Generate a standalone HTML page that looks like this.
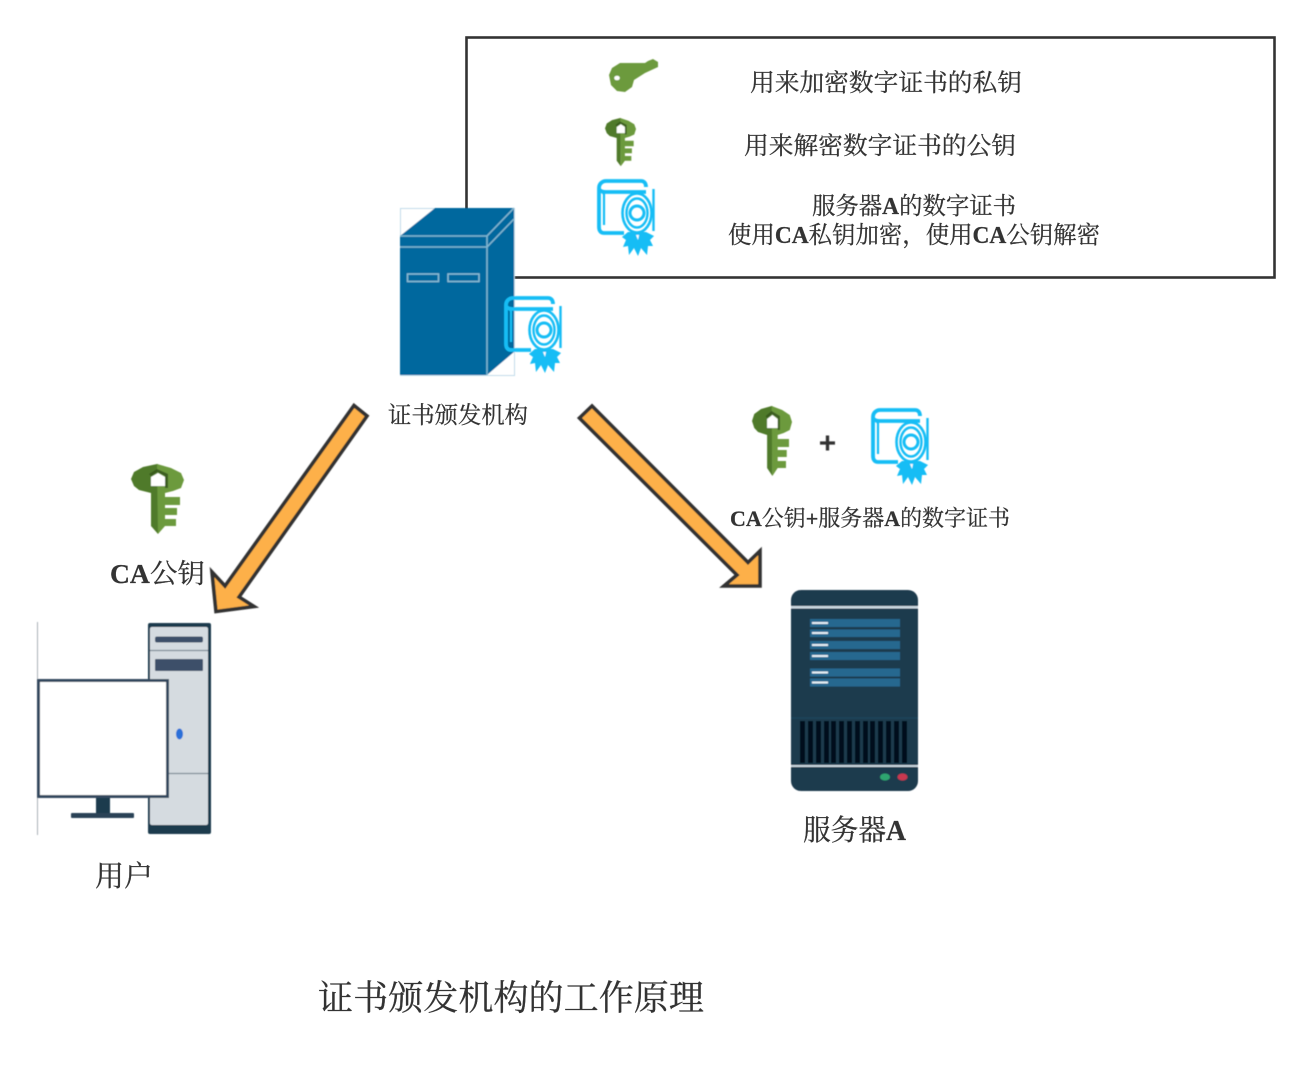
<!DOCTYPE html>
<html lang="zh">
<head>
<meta charset="utf-8">
<style>
html,body{margin:0;padding:0;background:#fff;width:1311px;height:1080px;overflow:hidden}
svg{display:block}
text{font-family:"Liberation Serif","Noto Serif CJK SC",serif;fill:#333;stroke:#333;stroke-width:.25px;}
.b{font-weight:bold}
</style>
</head>
<body>
<svg width="1311" height="1080" viewBox="0 0 1311 1080" xmlns="http://www.w3.org/2000/svg">
<defs>
<filter id="s" x="-5%" y="-5%" width="110%" height="110%"><feGaussianBlur stdDeviation="0.45"/></filter>
<g id="key">
  <path fill="#4f7a2b" d="M26 0L12 3L3 8L0 15L3 22L8 26L20 29L20 62L27 70L27 0Z"/>
  <path fill="#6c9a3d" d="M26 0L40 4L50 9L53 16L50 24L42 27L34 29L34 33L49 33L49 41L34 41L34 44L46 44L46 51L34 51L34 55L45 55L45 62L34 62L27 70Z"/>
  <path fill="#34551d" d="M18 10L26 5L37 10L37 24L34 24L34 12L26 8L20 12Z" opacity=".85"/>
  <path fill="#fff" d="M20 13L27 9L34 13L34 22L20 22Z"/>
</g>
<g id="cert" fill="none" stroke="#12bdf5">
  <path stroke-width="3.8" d="M3 9C3 5 6 2 10 2H45C48 2 50 4 50 8M3 9V48C3 52 5 54 8 54H28M3 10C4 12 6 13 10 13H50"/>
  <path stroke-width="2.2" d="M3 10L8 15V46"/>
  <ellipse cx="41" cy="34" rx="14.500" ry="19.500" stroke-width="2.6"/>
  <ellipse cx="41" cy="34" rx="10.500" ry="14.500" stroke-width="2.4"/>
  <circle cx="41" cy="34" r="7" stroke-width="3"/>
  <path stroke-width="2.4" d="M57.500 10V52"/>
  <path fill="#12bdf5" stroke="none" d="M32 53L50 53L58 57L54 61L57 67L52 67L51 76L45 69L42 77L38 69L33 76L32 67L27 68L30 61L26 58Z"/>
  <path fill="#fff" stroke="none" d="M40 56L43 56L42 61Z"/>
</g>
</defs>

<!-- legend box -->
<rect x="466.500" y="37.500" width="808" height="240" fill="#fff" stroke="#333" stroke-width="2.600"/>

<!-- legend icons -->
<g filter="url(#s)">
  <g>
    <path fill="#6c9a3d" d="M612 68L620 63L633 63L645 63L648 61L653 59L658 62L658 67L645 73L634 80L632 87L625 92L617 91L611 85L609 75Z"/>
    <ellipse cx="617" cy="78" rx="2.800" ry="2.300" fill="#fff"/>
  </g>
  <use href="#key" transform="translate(605 118) scale(.585 .69)"/>
  <use href="#cert" transform="translate(596 179)"/>

  <!-- CA server -->
  <rect x="400.500" y="208.500" width="114" height="167" fill="#fff" stroke="#bfdcea" stroke-width="1"/>
  <path fill="#00689e" d="M400 236L435 208H514V352L487 375H400Z"/>
  <path fill="none" stroke="#7fb6d0" stroke-width="1.600" d="M400 236H487L514 208M400 247H487M487 236V375M487 247L514 219"/>
  <rect x="407.500" y="274" width="31" height="7.500" fill="none" stroke="#8cbdd4" stroke-width="1.500"/>
  <rect x="448" y="274" width="31" height="7.500" fill="none" stroke="#8cbdd4" stroke-width="1.500"/>
  <use href="#cert" transform="translate(503 296)"/>

  <!-- arrows -->
  <path fill="#fdb04a" stroke="#333" stroke-width="3.600" stroke-linejoin="miter" d="M354 405.500L367 416L239 597L254 606.500L216 611.500L212 572L225 586Z"/>
  <path fill="#fdb04a" stroke="#333" stroke-width="3.600" stroke-linejoin="miter" d="M592 406L579.500 418L737 575L724 586L760 586L760 551L748 562.500Z"/>

  <!-- mid icons -->
  <use href="#key" transform="translate(752 406) scale(.755 1)"/>
  <path d="M820 443H835M827.500 435.500V450.500" stroke="#333" stroke-width="3.300" fill="none"/>
  <use href="#cert" transform="translate(870 408)"/>

  <!-- CA key -->
  <use href="#key" transform="translate(131 464)"/>

  <!-- PC -->
  <path d="M37.500 622V835" stroke="#aab2b8" stroke-width="1"/>
  <rect x="148" y="623" width="63" height="211" rx="2" fill="#1f3a4d"/>
  <rect x="150" y="627" width="58" height="198" rx="2" fill="#d5dbe0"/>
  <rect x="155" y="636.500" width="48" height="6" rx="2" fill="#3d5069"/>
  <rect x="155" y="659" width="48" height="12" rx="1" fill="#3d5069"/>
  <path d="M150 650.500H208M150 773.500H208" stroke="#7f8c96" stroke-width="1.200"/>
  <ellipse cx="179.500" cy="734" rx="3.500" ry="5.500" fill="#2a6fd8"/>
  <rect x="38.500" y="680.500" width="129" height="116" fill="#fff" stroke="#34495e" stroke-width="3"/>
  <rect x="96" y="798" width="14" height="16" fill="#1f3a4d"/>
  <rect x="71" y="813" width="63" height="5" rx="1" fill="#2c4356"/>

  <!-- Server A -->
  <rect x="791" y="590" width="127" height="201" rx="10" fill="#1f3a4d"/>
  <rect x="791" y="606" width="127" height="2.500" fill="#c9d6df"/>
  <g fill="#25688f">
    <rect x="810" y="619" width="90" height="8"/>
    <rect x="810" y="629.500" width="90" height="7.500"/>
    <rect x="810" y="641" width="90" height="8"/>
    <rect x="810" y="652" width="90" height="8"/>
    <rect x="810" y="668.500" width="90" height="8"/>
    <rect x="810" y="678.500" width="90" height="8"/>
  </g>
  <g fill="#e4eef4">
    <rect x="812" y="622" width="16" height="2"/>
    <rect x="812" y="632" width="16" height="2"/>
    <rect x="812" y="644" width="16" height="2"/>
    <rect x="812" y="655" width="16" height="2"/>
    <rect x="812" y="671.500" width="16" height="2"/>
    <rect x="812" y="681.500" width="16" height="2"/>
  </g>
  <rect x="791" y="717" width="127" height="2" fill="#1b4258"/>
  <g fill="#05101e">
    <rect x="800" y="721" width="5" height="42"/><rect x="808" y="721" width="5" height="42"/>
    <rect x="816" y="721" width="5" height="42"/><rect x="824" y="721" width="5" height="42"/>
    <rect x="831" y="721" width="5" height="42"/><rect x="839" y="721" width="5" height="42"/>
    <rect x="847" y="721" width="5" height="42"/><rect x="855" y="721" width="5" height="42"/>
    <rect x="863" y="721" width="5" height="42"/><rect x="870" y="721" width="5" height="42"/>
    <rect x="878" y="721" width="5" height="42"/><rect x="886" y="721" width="5" height="42"/>
    <rect x="894" y="721" width="5" height="42"/><rect x="902" y="721" width="5" height="42"/>
  </g>
  <rect x="791" y="765" width="127" height="2" fill="#c9d6df"/>
  <ellipse cx="885" cy="777" rx="5" ry="3.500" fill="#2fa56f"/>
  <ellipse cx="902.500" cy="777" rx="5" ry="3.500" fill="#c8384f"/>
</g>

<!-- labels -->
<text x="750" y="91" font-size="24.700" textLength="272" lengthAdjust="spacingAndGlyphs">用来加密数字证书的私钥</text>
<text x="744" y="154" font-size="24.700" textLength="272" lengthAdjust="spacingAndGlyphs">用来解密数字证书的公钥</text>
<text x="812" y="214" font-size="24" textLength="204" lengthAdjust="spacingAndGlyphs">服务器<tspan class="b">A</tspan>的数字证书</text>
<text x="728" y="243" font-size="24" textLength="372" lengthAdjust="spacingAndGlyphs">使用<tspan class="b">CA</tspan>私钥加密，使用<tspan class="b">CA</tspan>公钥解密</text>
<text x="388" y="423" font-size="23.300" textLength="140" lengthAdjust="spacingAndGlyphs">证书颁发机构</text>
<text x="730" y="526" font-size="22.500" textLength="280" lengthAdjust="spacingAndGlyphs"><tspan class="b">CA</tspan>公钥<tspan class="b">+</tspan>服务器<tspan class="b">A</tspan>的数字证书</text>
<text x="110" y="583" font-size="27" textLength="95" lengthAdjust="spacingAndGlyphs"><tspan class="b">CA</tspan>公钥</text>
<text x="803" y="840" font-size="29" textLength="103" lengthAdjust="spacingAndGlyphs">服务器<tspan class="b">A</tspan></text>
<text x="95" y="886" font-size="29" textLength="58" lengthAdjust="spacingAndGlyphs">用户</text>
<text x="318" y="1010" font-size="35" textLength="386" lengthAdjust="spacingAndGlyphs">证书颁发机构的工作原理</text>
</svg>
</body>
</html>
